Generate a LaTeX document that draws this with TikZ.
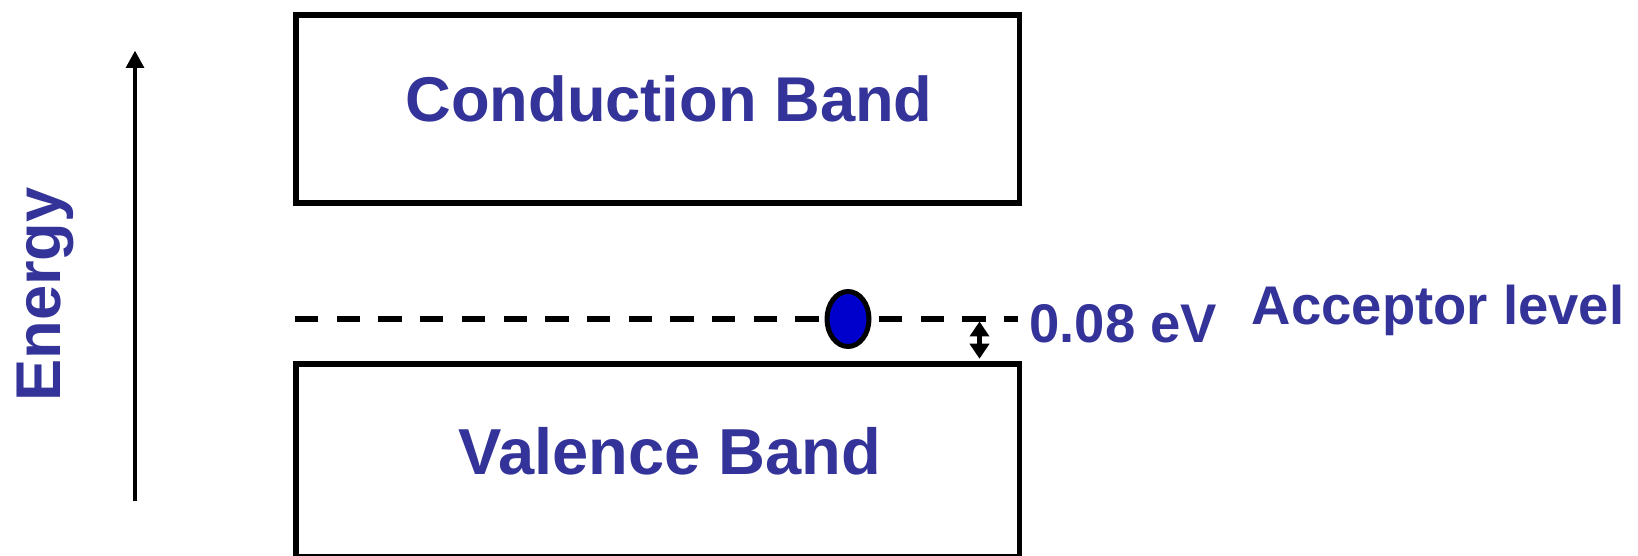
\documentclass[tikz,border=0pt]{standalone}
\usepackage{fontspec}
\setmainfont{Liberation Sans}
\usetikzlibrary{arrows.meta,positioning,shapes.geometric}
\definecolor{bandblue}{RGB}{51,51,153}
\definecolor{holeblue}{RGB}{0,0,204}

\begin{document}
\begin{tikzpicture}[>=Latex,
  band/.style={draw,line width=0.11cm,minimum width=14.47cm,inner sep=0pt},
  lbl/.style={text=bandblue,font=\bfseries\fontsize{36}{40}\selectfont,inner sep=0pt},
  small/.style={text=bandblue,font=\bfseries\fontsize{31}{36}\selectfont,inner sep=0pt}]
\useasboundingbox (0,0) rectangle (32.76,11.12);

\node[band,minimum height=3.76cm] (cb) at (13.15,8.935) {};
\node[band,minimum height=3.86cm] (vb) at (13.15,1.905) {};
\node[lbl,anchor=base] (cbtext) at (13.38,8.69) {Conduction Band};
\node[lbl,anchor=base,font=\bfseries\fontsize{37}{40}\selectfont] (vbtext) at (13.40,1.62) {Valence Band};

% acceptor level
\coordinate (lvlstart) at (5.90,4.74);
\coordinate (lvlend) at (20.36,4.74);
\draw[line width=0.11cm,dash pattern=on 0.467cm off 0.367cm] (lvlstart) -- (lvlend);
\node[ellipse,draw,fill=holeblue,line width=0.1cm,minimum width=0.84cm,minimum height=1.1cm,inner sep=0pt] (hole) at (16.96,4.74) {};

\coordinate (gaptop) at (19.59,4.69);
\draw[{Triangle[length=0.3cm,width=0.38cm]}-{Triangle[length=0.3cm,width=0.38cm]},line width=0.09cm]
  (gaptop) -- ([yshift=0.055cm]vb.north -| gaptop);

\node[small,anchor=base west] (gap) at (20.58,4.27) {0.08 eV};
\node[small,anchor=base west] (acc) at (25.03,4.63) {Acceptor level};

% energy axis
\node[lbl,rotate=90,anchor=base west] (energy) at (1.20,3.08) {Energy};
\coordinate (ebot) at (2.70,1.09);
\coordinate (etop) at (2.70,10.11);
\draw[-{Triangle[length=0.35cm,width=0.35cm]},line width=0.09cm] (ebot) -- (etop);
\end{tikzpicture}
\end{document}
